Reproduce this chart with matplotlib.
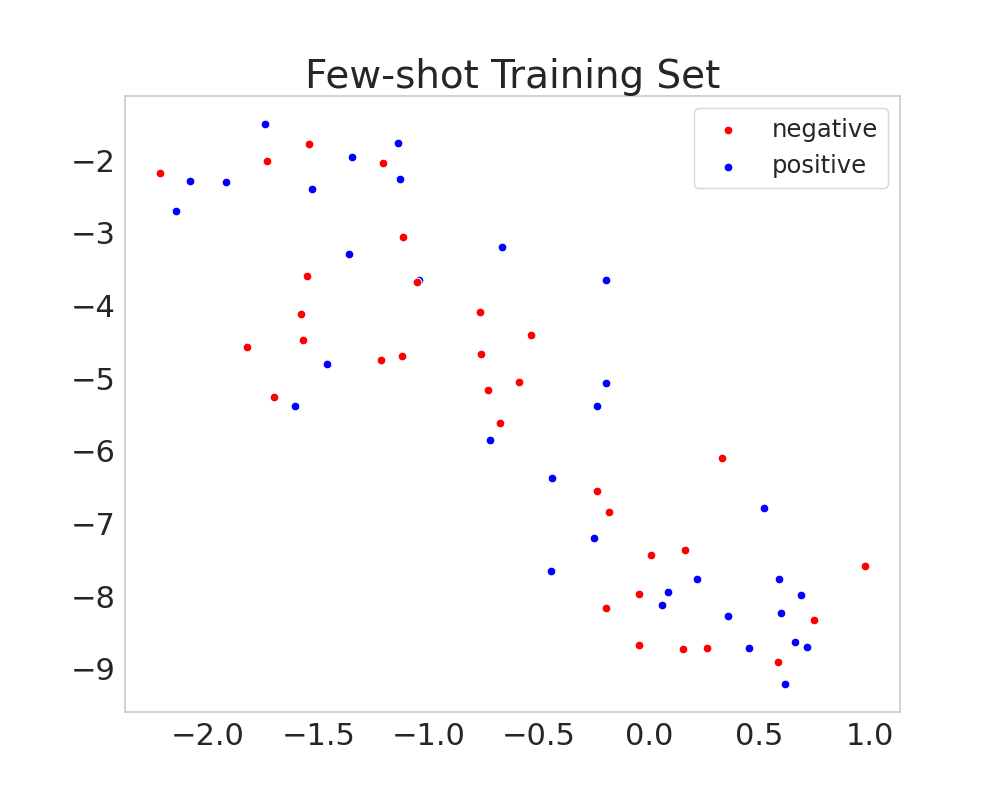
import matplotlib
matplotlib.use('Agg')
import matplotlib.pyplot as plt
import numpy as np

# negative class (red)
neg_x = [-1.544, -1.731, -1.207, -2.216, -1.115, -1.550, -1.054, -1.577, -1.568, -1.823,
         -1.217, -1.121, -1.699, -0.769, -0.536, -0.760, -0.588, -0.730, -0.674, 0.328,
         -0.236, -0.183, 0.009, 0.163, 0.977, -0.044, -0.198, 0.746, -0.045, 0.153,
         0.264, 0.586]
neg_y = [-1.780, -2.014, -2.032, -2.174, -3.058, -3.593, -3.672, -4.120, -4.477, -4.569,
         -4.751, -4.688, -5.251, -4.084, -4.400, -4.661, -5.054, -5.159, -5.609, -6.098,
         -6.547, -6.839, -7.435, -7.361, -7.581, -7.971, -8.163, -8.323, -8.666, -8.727,
         -8.717, -8.909]

# positive class (blue)
pos_x = [-1.743, -1.137, -1.347, -2.083, -1.920, -1.130, -1.530, -2.143, -1.362, -1.042,
         -1.459, -1.607, -0.669, -0.198, -0.196, -0.237, -0.722, -0.440, 0.521, -0.248,
         -0.443, 0.216, 0.588, 0.085, 0.686, 0.056, 0.359, 0.597, 0.663, 0.715,
         0.452, 0.615]
pos_y = [-1.501, -1.766, -1.955, -2.279, -2.302, -2.251, -2.394, -2.696, -3.291, -3.648,
         -4.798, -5.379, -3.195, -3.648, -5.067, -5.375, -5.856, -6.368, -6.780, -7.192,
         -7.655, -7.765, -7.765, -7.938, -7.979, -8.122, -8.277, -8.236, -8.630, -8.694,
         -8.713, -9.207]

fig, ax = plt.subplots(figsize=(10, 8), dpi=100)

# blue first so the red dots sit on top where they overlap
h_pos = ax.scatter(pos_x, pos_y, s=40, c='blue', edgecolors='white', linewidths=0.75,
                   label='positive')
h_neg = ax.scatter(neg_x, neg_y, s=40, c='red', edgecolors='white', linewidths=0.75,
                   label='negative')

for sp in ax.spines.values():
    sp.set_color('#cccccc')
    sp.set_linewidth(1.25)
ax.tick_params(axis='both', length=0, labelsize=22, labelcolor='#262626', pad=7)
ax.set_title('Few-shot Training Set', fontsize=28, color='#262626')

leg = ax.legend([h_neg, h_pos], ['negative', 'positive'], loc='upper right',
                fontsize=17.5, frameon=True, edgecolor='#cccccc', fancybox=True)
for t in leg.get_texts():
    t.set_color('#262626')

plt.savefig('out.png')
